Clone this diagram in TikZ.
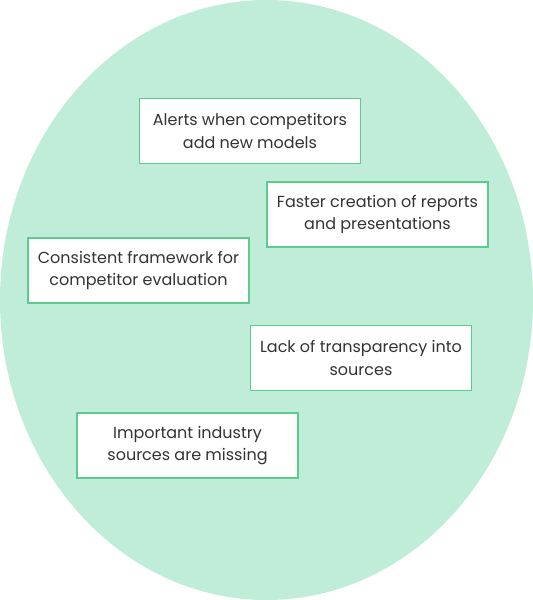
\documentclass[tikz,border=0pt]{standalone}
\usepackage{fontspec}
\setmainfont{Poppins}
\usepackage{xcolor}
\usetikzlibrary{shapes.geometric}
\definecolor{blobfill}{HTML}{BFEDD8}
\definecolor{boxline}{HTML}{5CCB8F}
\definecolor{textgray}{HTML}{333333}

\begin{document}
\begin{tikzpicture}[x=1pt, y=-1pt,
    note/.style={draw=boxline, line width=1.3pt, fill=white, text=textgray,
      minimum width=221pt, minimum height=65pt, align=center,
      font=\fontsize{16}{22.5}\selectfont, inner sep=0pt}]
    \useasboundingbox (0,0) rectangle (533,600);
    \node[ellipse, fill=blobfill, minimum width=533pt, minimum height=600pt, inner sep=0pt] (blob) at (266.5,300) {};
    \node[note] (alerts) at (250,131) {Alerts when competitors\\add new models};
    \node[note] (faster) at (377.5,214.5) {Faster creation of reports\\and presentations};
    \node[note] (framework) at (138.5,270.5) {Consistent framework for\\competitor evaluation};
    \node[note] (transparency) at (361,358) {Lack of transparency into\\sources};
    \node[note] (missing) at (187.5,445.5) {Important industry\\sources are missing};
\end{tikzpicture}
\end{document}
